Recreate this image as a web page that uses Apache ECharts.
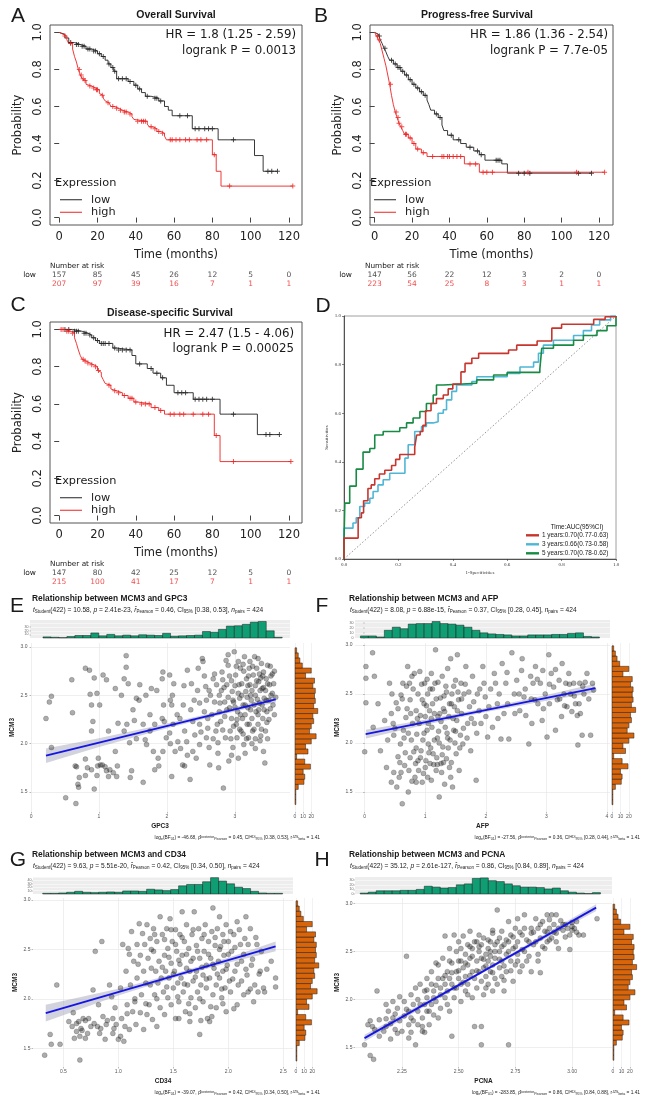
<!DOCTYPE html>
<html><head><meta charset="utf-8">
<script src="https://cdn.jsdelivr.net/npm/echarts@6/dist/echarts.min.js"></script>
<style>html,body{margin:0;padding:0;background:#fff}#c{width:647px;height:1108px}</style>
</head><body><div id="c"></div><script>
// ---------------- DATA ----------------
const kmTimeTicks = [0,20,40,60,80,100,120];
const probTicks = [0,0.2,0.4,0.6,0.8,1.0];
const riskTimes = [0,20,40,60,80,100,120];

// A: Overall survival
const osLowCurve = [[0,1],[1,0.99],[3,0.97],[5,0.945],[8,0.935],[11,0.925],[14,0.91],[17,0.9],[20,0.885],[22,0.87],[24,0.85],[25.5,0.83],[27,0.81],[28.5,0.79],[30,0.75],[36,0.735],[39,0.715],[41,0.695],[43,0.675],[45,0.655],[48,0.645],[52,0.63],[55,0.6],[57,0.58],[59,0.55],[69.5,0.48],[83,0.42],[102,0.335],[106.5,0.25],[114,0.25]];
const osLowCensor = [[6,0.945],[9,0.935],[10,0.935],[12,0.925],[13,0.925],[15,0.91],[16,0.91],[18,0.9],[19,0.9],[21,0.885],[23,0.87],[26,0.83],[28,0.81],[29,0.79],[31,0.75],[33,0.75],[35,0.75],[37,0.735],[40,0.715],[42,0.695],[46,0.655],[50,0.645],[51,0.645],[53,0.63],[63,0.55],[67,0.55],[71,0.48],[73,0.48],[76,0.48],[78,0.48],[80,0.48],[91,0.42],[109,0.25],[111,0.25],[114,0.25]];
const osHighCurve = [[0,1],[1,0.99],[2,0.98],[4,0.96],[5,0.94],[7,0.91],[8,0.87],[9,0.84],[10,0.8],[11,0.77],[12,0.75],[13,0.74],[14,0.72],[15,0.71],[17,0.7],[19,0.69],[21,0.67],[22,0.66],[23,0.645],[24,0.63],[25,0.62],[26,0.61],[27,0.6],[29,0.59],[31,0.58],[33,0.57],[36,0.56],[38,0.545],[39,0.53],[40,0.52],[46,0.505],[47,0.49],[49,0.48],[51,0.465],[53,0.455],[55,0.44],[56,0.42],[80,0.34],[82,0.25],[84.5,0.17],[122,0.17]];
const osHighCensor = [[3,0.98],[6,0.94],[10.5,0.8],[11.5,0.77],[12.5,0.75],[13.5,0.74],[16,0.71],[18,0.7],[19.5,0.69],[20,0.69],[22.5,0.66],[25.5,0.62],[28,0.6],[30,0.59],[32,0.58],[34,0.57],[35,0.57],[37,0.56],[41,0.52],[43,0.52],[44,0.52],[45,0.52],[48,0.49],[50,0.48],[52,0.465],[54,0.455],[58,0.42],[59,0.42],[61,0.42],[63,0.42],[66,0.42],[68,0.42],[72,0.42],[74,0.42],[77,0.42],[81,0.34],[89,0.17],[122,0.17]];
const osRiskLow = [157,85,45,26,12,5,0];
const osRiskHigh = [207,97,39,16,7,1,1];

// B: Progress-free survival
const pfsLowCurve = [[0,1],[1,0.99],[2,0.98],[3,0.96],[4,0.94],[5,0.915],[6,0.895],[7,0.87],[8,0.85],[10,0.83],[12,0.81],[14,0.79],[16,0.77],[18,0.745],[20,0.72],[22,0.7],[24,0.68],[26,0.66],[28,0.635],[29,0.61],[30,0.58],[32,0.56],[34,0.54],[36,0.5],[37,0.47],[39,0.445],[42,0.42],[46,0.4],[49,0.38],[53,0.36],[56,0.34],[59,0.31],[68,0.29],[71,0.24],[116,0.24]];
const pfsLowCensor = [[2.5,0.98],[5.5,0.915],[9,0.85],[11,0.83],[12.5,0.81],[13.5,0.81],[15,0.79],[17,0.77],[19,0.745],[21,0.72],[23,0.7],[25,0.68],[27,0.66],[33,0.56],[35,0.54],[41,0.445],[45,0.42],[51,0.38],[55,0.36],[57,0.34],[65,0.31],[66,0.31],[67,0.31],[77,0.24],[80,0.24],[83,0.24],[109,0.24],[116,0.24]];
const pfsHighCurve = [[0,1],[1,0.98],[2,0.96],[3,0.94],[4,0.9],[5,0.86],[6,0.82],[7,0.77],[8,0.72],[9,0.66],[10,0.61],[11,0.57],[12,0.54],[13,0.51],[14,0.49],[15,0.47],[16,0.45],[18,0.43],[20,0.4],[22,0.37],[25,0.35],[28,0.33],[48,0.29],[56,0.245],[123,0.245]];
const pfsHighCensor = [[1.5,0.98],[2.5,0.96],[8.5,0.72],[11.5,0.57],[12.5,0.54],[13,0.51],[14.5,0.49],[16.5,0.45],[17,0.45],[19,0.43],[21,0.4],[23,0.37],[26,0.35],[31,0.33],[36,0.33],[37,0.33],[39,0.33],[40,0.33],[42,0.33],[44,0.33],[46,0.33],[51,0.29],[54,0.29],[58,0.245],[60,0.245],[63,0.245],[82,0.245],[108,0.245],[123,0.245]];
const pfsRiskLow = [147,56,22,12,3,2,0];
const pfsRiskHigh = [223,54,25,8,3,1,1];

// C: Disease-specific survival
const dssLowCurve = [[0,1],[7,0.99],[12,0.98],[15,0.97],[17,0.955],[19,0.94],[21,0.925],[28,0.9],[30,0.89],[38,0.86],[40,0.815],[46,0.79],[49,0.765],[53,0.74],[56,0.7],[60,0.66],[70,0.625],[84,0.545],[103.5,0.435],[115,0.435]];
const dssLowCensor = [[3,1],[5,1],[8,0.99],[9,0.99],[10,0.99],[13,0.98],[14,0.98],[16,0.97],[18,0.955],[20,0.94],[22,0.925],[23,0.925],[24,0.925],[26,0.925],[29,0.9],[31,0.89],[33,0.89],[35,0.89],[37,0.89],[42,0.815],[48,0.79],[51,0.765],[54,0.74],[62,0.66],[64,0.66],[66,0.66],[71,0.625],[73,0.625],[75,0.625],[77,0.625],[80,0.625],[91,0.545],[108,0.435],[110,0.435],[115,0.435]];
const dssHighCurve = [[0,1],[3,0.99],[6,0.98],[8,0.955],[9,0.925],[10,0.89],[11,0.86],[12,0.84],[13,0.83],[14,0.82],[16,0.81],[18,0.8],[20,0.78],[21,0.77],[22,0.75],[23,0.73],[24,0.71],[25,0.7],[27,0.68],[28,0.67],[30,0.66],[33,0.645],[36,0.63],[39,0.61],[41,0.6],[48,0.58],[52,0.565],[55,0.545],[81,0.43],[84,0.29],[121,0.29]];
const dssHighCensor = [[1,1],[2,1],[4,0.99],[5,0.99],[7,0.98],[12.5,0.84],[13.5,0.83],[15,0.82],[17,0.81],[19,0.8],[20.5,0.78],[26,0.7],[29,0.67],[31,0.66],[34,0.645],[37,0.63],[38,0.63],[40,0.61],[43,0.6],[45,0.6],[47,0.6],[50,0.58],[53,0.565],[58,0.545],[60,0.545],[63,0.545],[65,0.545],[70,0.545],[75,0.545],[78,0.545],[82,0.43],[91,0.29],[121,0.29]];
const dssRiskLow = [147,80,42,25,12,5,0];
const dssRiskHigh = [215,100,41,17,7,1,1];

// D: time-dependent ROC
const roc1y = [[0,0],[0,0.086],[0.052,0.17],[0.064,0.19],[0.072,0.24],[0.088,0.29],[0.1,0.305],[0.113,0.33],[0.13,0.35],[0.15,0.365],[0.175,0.385],[0.19,0.41],[0.205,0.43],[0.26,0.46],[0.267,0.51],[0.28,0.525],[0.29,0.55],[0.3,0.61],[0.32,0.64],[0.34,0.66],[0.365,0.675],[0.383,0.7],[0.4,0.72],[0.43,0.77],[0.445,0.805],[0.47,0.826],[0.495,0.846],[0.605,0.86],[0.635,0.88],[0.71,0.897],[0.764,0.95],[0.8,0.966],[0.918,0.986],[0.96,0.997],[1,1]];
const roc3y = [[0,0],[0,0.127],[0.033,0.148],[0.045,0.17],[0.058,0.216],[0.076,0.23],[0.095,0.25],[0.107,0.278],[0.125,0.305],[0.144,0.326],[0.168,0.353],[0.224,0.415],[0.236,0.47],[0.26,0.525],[0.285,0.545],[0.303,0.56],[0.328,0.565],[0.346,0.6],[0.365,0.614],[0.377,0.655],[0.396,0.69],[0.414,0.716],[0.47,0.73],[0.488,0.75],[0.6,0.764],[0.647,0.79],[0.697,0.81],[0.715,0.847],[0.733,0.88],[0.77,0.9],[0.844,0.92],[0.88,0.94],[0.91,0.963],[0.94,0.984],[0.98,1],[1,1]];
const roc5y = [[0,0],[0,0.07],[0.003,0.23],[0.021,0.3],[0.045,0.37],[0.07,0.44],[0.095,0.455],[0.113,0.51],[0.144,0.525],[0.205,0.54],[0.23,0.56],[0.254,0.58],[0.279,0.607],[0.303,0.64],[0.328,0.675],[0.34,0.716],[0.365,0.723],[0.488,0.737],[0.55,0.757],[0.6,0.768],[0.72,0.782],[0.727,0.867],[0.77,0.88],[0.844,0.9],[0.88,0.92],[0.93,0.94],[0.967,0.96],[1,0.99],[1,1]];
const rocNames = ['1 years:0.70(0.77-0.63)','3 years:0.66(0.73-0.58)','5 years:0.70(0.78-0.62)'];
const rocDiagonal = [[0,0],[1,1]];

// E-H: MCM3 marginal histogram (shared)
const mcm3HistStart = 1.37, mcm3HistWidth = 0.0523;
const mcm3HistCounts = [1,1,1,4,11,12,10,19,12,2,16,13,20,26,18,20,23,22,28,23,25,24,25,22,24,13,20,9,6,4,2];

// E: GPC3
const gpc3Mcm3 = [[0.22,2.26],[0.27,2.43],[0.30,2.49],[0.30,1.96],[0.51,1.44],[0.66,1.38],[0.60,2.66],[0.61,2.32],[0.65,1.77],[0.67,1.76],[0.69,1.58],[0.71,1.65],[0.70,1.55],[0.80,1.67],[0.80,2.78],[0.86,2.76],[0.93,2.68],[0.87,2.51],[0.89,2.40],[0.91,2.23],[0.89,2.13],[0.80,1.84],[0.83,1.75],[0.89,1.73],[0.93,1.53],[0.97,1.67],[0.98,1.77],[1.02,1.78],[0.99,1.85],[1.05,1.78],[0.97,2.52],[1.01,2.40],[1.06,2.71],[1.11,2.66],[1.14,2.13],[1.09,1.76],[1.11,1.72],[1.14,1.66],[1.16,1.73],[1.21,1.70],[1.26,1.66],[1.27,1.77],[1.24,1.92],[1.28,2.21],[1.24,2.57],[1.33,2.50],[1.37,2.67],[1.40,2.91],[1.40,2.79],[1.43,2.62],[1.41,2.20],[1.37,2.13],[1.45,2.01],[1.48,1.72],[1.46,1.65],[1.52,2.24],[1.55,2.47],[1.59,2.45],[1.60,2.61],[1.65,1.60],[1.68,2.04],[1.69,2.50],[1.70,1.99],[1.75,2.13],[1.77,2.57],[1.80,1.92],[1.82,1.73],[1.82,2.20],[1.87,1.85],[1.88,1.77],[1.93,2.26],[1.94,2.74],[1.94,1.92],[1.96,2.23],[1.93,2.67],[1.99,2.06],[2.04,2.11],[2.04,2.71],[2.05,2.45],[2.07,2.40],[2.08,2.50],[2.09,2.20],[2.07,1.66],[2.12,1.92],[2.16,2.02],[2.19,2.26],[2.23,1.78],[2.26,1.77],[2.24,2.40],[2.26,2.13],[2.30,2.76],[2.29,2.02],[2.34,1.63],[2.36,2.62],[2.38,2.23],[2.38,1.92],[2.41,2.09],[2.43,1.85],[2.46,2.78],[2.48,2.42],[2.48,2.20],[2.48,1.99],[2.52,2.88],[2.53,2.85],[2.55,2.33],[2.57,2.59],[2.58,2.45],[2.58,2.06],[2.60,2.16],[2.60,2.26],[2.62,1.96],[2.63,1.78],[2.64,2.50],[2.68,2.67],[2.70,2.43],[2.72,2.13],[2.73,2.61],[2.75,2.01],[2.76,1.75],[2.77,2.33],[2.77,2.50],[2.79,2.23],[2.81,2.74],[2.82,2.66],[2.83,1.54],[2.85,2.43],[2.86,2.06],[2.87,2.86],[2.88,2.61],[2.90,2.81],[2.91,1.82],[2.92,2.37],[2.93,2.13],[2.95,2.26],[2.96,2.54],[2.97,1.96],[2.98,2.43],[2.99,2.95],[3.01,2.71],[3.02,2.20],[3.03,2.06],[3.04,2.33],[3.06,2.61],[3.07,2.47],[3.08,2.78],[3.09,2.13],[3.11,2.26],[3.12,2.40],[3.13,1.99],[3.14,2.90],[3.16,2.54],[3.17,2.67],[3.18,2.20],[3.19,2.37],[3.20,2.06],[3.21,2.78],[3.22,2.61],[3.24,2.45],[3.25,2.26],[3.26,2.13],[3.27,2.71],[3.29,2.90],[3.30,2.50],[3.31,2.33],[3.32,2.78],[3.34,2.20],[3.35,2.64],[3.36,2.42],[3.37,2.03],[3.39,2.83],[3.40,2.57],[3.41,2.26],[3.42,2.74],[3.43,2.47],[3.45,2.13],[3.46,2.67],[3.47,2.33],[3.48,2.81],[3.51,2.61],[3.53,2.50],[3.55,2.72],[3.56,2.40],[3.44,1.80],[2.95,2.65],[3.05,2.52],[3.15,2.30],[3.25,2.55],[3.35,2.35],[3.45,2.55],[3.10,2.62],[3.20,2.70],[3.30,2.60],[3.40,2.40],[2.90,2.48],[3.00,2.38],[3.28,2.15],[3.38,2.68],[3.50,2.45],[3.18,2.48],[3.08,2.30],[2.98,2.18],[3.33,2.46],[3.23,2.35],[2.85,2.28],[3.42,2.58],[3.12,2.10],[3.36,2.72],[3.52,2.36],[2.80,2.55],[3.22,2.85],[3.02,2.80],[3.47,2.22],[3.57,2.62],
[2.62,2.55],[2.66,2.30],[2.70,2.72],[2.74,2.20],[2.78,2.42],[2.82,2.14],[2.84,2.58],[2.88,2.35],[2.92,2.70],[2.94,2.05],[2.97,2.45],[3.00,2.60],[3.03,2.25],[3.05,2.85],[3.07,2.15],[3.10,2.50],[3.13,2.75],[3.15,2.40],[3.17,2.05],[3.19,2.60],[3.21,2.20],[3.23,2.50],[3.26,2.80],[3.28,2.40],[3.30,2.05],[3.32,2.65],[3.34,2.30],[3.37,2.55],[3.39,2.15],[3.41,2.70],[3.43,2.35],[3.46,2.45],[3.48,2.62],[3.50,2.25],[3.53,2.70],[3.55,2.52],[3.58,2.30],[3.60,2.48],[3.15,1.90],[3.30,1.95],[2.95,1.88],[3.42,1.92],[2.75,1.90],[3.05,1.85],[3.25,2.00],[3.38,2.08],[3.48,2.05],[2.68,2.05],[2.55,2.70],[2.45,2.55],[2.35,2.35],[2.25,2.60],[2.15,2.30],[2.05,2.00],[1.95,2.40],[1.85,2.55],[1.75,2.30],[1.65,2.20],[1.55,2.05],[1.50,2.35],[2.50,2.12],[2.40,2.45],[2.20,1.95],[2.10,2.62],[2.30,1.88],[3.52,2.80],[3.58,2.75],[3.34,2.88],[3.12,2.82],[2.90,2.92]];
const gpc3HistStart = 0.176, gpc3HistWidth = 0.1173;
const gpc3HistCounts = [3,2,1,4,7,7,14,6,10,6,8,6,9,8,7,13,5,6,7,8,18,16,24,33,34,38,44,46,20,2];
const gpc3RegLine = [[0.22,1.877],[3.6,2.459]];
const gpc3BandX = [0.22,1.0,2.0,2.6,3.2,3.6];
const gpc3BandLo = [1.80,1.965,2.158,2.266,2.365,2.424];
const gpc3BandHi = [1.95,2.056,2.208,2.306,2.415,2.494];

// F: AFP
const afpMcm3 = [[0.02,2.78],[0.02,2.66],[0.02,2.41],[0,1.91],[0.13,2.92],[0.14,2.16],[0.16,2.68],[0.22,2.40],[0.26,1.92],[0.33,2.23],[0.36,1.75],[0.38,2.03],[0.41,2.61],[0.44,1.60],[0.44,2.30],[0.47,2.20],[0.48,2.08],[0.52,2.41],[0.53,1.55],[0.55,1.86],[0.57,1.65],[0.59,1.99],[0.60,2.49],[0.62,1.38],[0.63,2.61],[0.64,2.13],[0.66,1.77],[0.68,2.26],[0.71,2.78],[0.73,1.72],[0.74,2.61],[0.75,2.44],[0.77,2.03],[0.78,1.61],[0.79,2.20],[0.81,1.91],[0.82,2.71],[0.84,1.79],[0.85,2.33],[0.86,2.09],[0.88,2.50],[0.89,1.72],[0.90,2.20],[0.91,2.73],[0.93,1.92],[0.95,2.44],[0.96,2.03],[0.97,1.69],[0.99,2.61],[1.00,2.27],[1.01,1.82],[1.03,2.13],[1.04,2.50],[1.04,1.65],[1.05,1.99],[1.07,2.33],[1.08,1.79],[1.10,2.71],[1.11,2.16],[1.12,2.40],[1.13,1.89],[1.15,2.03],[1.16,2.61],[1.18,1.72],[1.17,2.95],[1.21,2.27],[1.22,2.12],[1.23,1.45],[1.25,2.46],[1.26,1.79],[1.28,2.68],[1.29,1.96],[1.30,2.35],[1.32,1.58],[1.33,2.16],[1.34,2.58],[1.35,1.84],[1.37,2.76],[1.39,2.27],[1.40,1.75],[1.41,2.03],[1.42,2.86],[1.44,2.50],[1.45,1.55],[1.47,2.13],[1.48,2.37],[1.50,2.64],[1.51,1.89],[1.52,2.23],[1.53,2.90],[1.55,2.44],[1.56,1.72],[1.58,2.08],[1.59,2.61],[1.60,2.30],[1.62,1.99],[1.64,2.50],[1.67,2.78],[1.70,2.20],[1.73,2.37],[1.75,1.92],[1.78,2.68],[1.81,2.20],[1.84,1.62],[1.86,2.50],[1.89,2.33],[1.95,2.78],[1.97,2.61],[1.99,2.47],[2.00,2.27],[2.03,2.06],[2.05,2.37],[2.11,2.16],[2.14,2.71],[2.16,2.61],[2.19,2.40],[2.22,2.50],[2.25,2.04],[2.27,2.81],[2.30,2.30],[2.33,2.61],[2.36,2.40],[2.38,2.04],[2.43,2.92],[2.47,2.50],[2.48,2.30],[2.51,2.64],[2.56,2.33],[2.59,2.74],[2.60,2.86],[2.63,2.47],[2.66,2.28],[2.71,1.99],[2.74,2.68],[2.76,2.20],[2.78,2.61],[2.81,2.44],[2.82,2.78],[2.86,2.40],[2.90,2.61],[2.93,2.23],[2.94,2.74],[2.98,2.50],[3.01,2.06],[3.04,2.90],[3.05,2.40],[3.08,2.71],[3.12,2.57],[3.15,2.13],[3.18,2.44],[3.21,2.64],[3.25,2.27],[3.26,2.81],[3.29,2.50],[3.32,2.61],[3.34,2.37],[3.37,2.71],[3.40,2.50],[3.42,2.32],[3.45,2.61],[3.48,2.40],[3.51,2.28],[3.52,1.98],[3.55,2.61],[3.56,2.30],[3.59,2.08],[3.62,2.50],[3.64,2.62],[3.67,2.71],[3.73,2.08],[3.76,2.61],[3.78,2.54],[0.70,2.35],[0.75,1.85],[0.85,1.95],[0.92,2.28],[0.98,2.10],[1.02,2.38],[1.06,1.90],[1.10,2.25],[1.14,1.78],[1.18,2.45],[1.20,2.05],[1.24,2.30],[1.27,1.70],[1.31,2.48],[1.36,2.10],[1.38,1.95],[1.43,2.40],[1.46,2.25],[1.49,2.00],[1.54,2.52],[0.80,2.55],[0.95,1.60],[1.08,2.55],[1.30,1.80],[0.65,2.05],
[0.45,2.50],[0.50,2.15],[0.55,2.35],[0.58,1.80],[0.62,2.45],[0.67,1.90],[0.69,2.58],[0.72,2.10],[0.76,2.30],[0.78,2.68],[0.83,1.65],[0.87,2.25],[0.92,1.85],[0.94,2.60],[0.98,2.40],[1.00,1.75],[1.03,2.65],[1.05,2.20],[1.09,1.95],[1.12,2.55],[1.15,2.30],[1.19,1.85],[1.21,2.62],[1.23,2.00],[1.26,2.22],[1.28,1.88],[1.32,2.32],[1.35,2.52],[1.37,2.05],[1.40,2.40],[1.43,1.80],[1.47,2.58],[1.50,2.12],[1.53,2.33],[1.57,1.95],[1.60,2.45],[1.63,2.15],[1.66,2.60],[1.69,2.05],[1.72,2.52],[1.76,2.25],[1.80,2.42],[1.85,2.10],[1.90,2.55],[0.48,1.70],[0.60,1.70],[0.85,1.60],[1.10,1.62],[1.20,1.78],[1.42,1.65],[0.72,1.50],[0.88,1.82],[2.65,2.55],[2.75,2.45],[2.85,2.65],[2.95,2.35],[3.05,2.60],[3.15,2.75],[3.22,2.45],[3.30,2.38],[3.38,2.60],[3.46,2.48],[3.54,2.40],[3.60,2.58],[3.70,2.45],[2.55,2.50],[2.35,2.72],[2.20,2.25],[2.08,2.55],[1.92,2.20]];
const afpHistStart = -0.07, afpHistWidth = 0.1315;
const afpHistCounts = [4,4,2,15,21,18,27,28,28,32,28,27,25,21,15,10,8,7,6,4,4,6,6,6,7,7,9,10,3,2];
const afpRegLine = [[0.016,2.09],[3.81,2.56]];
const afpBandX = [0.02,1.0,2.0,3.0,3.8];
const afpBandLo = [2.045,2.187,2.316,2.43,2.514];
const afpBandHi = [2.135,2.237,2.356,2.49,2.604];

// G: CD34
const cd34Mcm3 = [[0.33,1.43],[0.38,1.64],[0.39,1.54],[0.47,1.54],[0.44,2.14],[0.55,1.77],[0.58,1.72],[0.59,1.86],[0.62,1.67],[0.64,1.77],[0.65,1.62],[0.65,1.38],[0.67,1.68],[0.68,1.80],[0.70,1.60],[0.73,1.80],[0.75,1.72],[0.77,2.09],[0.79,2.48],[0.81,1.72],[0.82,1.94],[0.83,1.65],[0.85,2.58],[0.86,1.82],[0.88,1.59],[0.89,1.74],[0.92,2.14],[0.94,2.02],[0.95,1.80],[0.95,1.65],[0.97,1.91],[0.98,1.74],[1.00,1.59],[1.02,2.11],[1.03,1.80],[1.04,2.55],[1.05,1.57],[1.06,1.72],[1.07,2.28],[1.08,1.94],[1.09,2.51],[1.10,1.69],[1.11,2.14],[1.12,2.68],[1.13,1.87],[1.14,2.38],[1.15,1.97],[1.16,1.74],[1.17,2.55],[1.17,2.21],[1.19,2.76],[1.20,1.86],[1.20,2.44],[1.21,2.04],[1.22,2.66],[1.23,2.28],[1.23,1.69],[1.24,2.55],[1.25,2.16],[1.26,2.75],[1.26,1.84],[1.27,2.41],[1.28,1.94],[1.29,2.61],[1.29,2.14],[1.30,2.31],[1.31,1.79],[1.32,2.71],[1.32,2.48],[1.33,2.04],[1.34,2.28],[1.35,1.72],[1.35,2.58],[1.36,2.16],[1.37,2.38],[1.38,1.91],[1.38,2.83],[1.39,2.21],[1.40,2.65],[1.41,2.07],[1.42,2.44],[1.42,1.84],[1.43,2.28],[1.44,2.71],[1.45,2.01],[1.45,2.51],[1.46,2.21],[1.47,2.81],[1.48,2.36],[1.48,1.94],[1.49,2.58],[1.50,2.11],[1.51,2.28],[1.52,2.70],[1.52,1.80],[1.53,2.48],[1.54,2.16],[1.55,2.39],[1.55,1.97],[1.56,2.65],[1.57,2.21],[1.58,2.88],[1.58,2.44],[1.59,2.07],[1.60,2.58],[1.61,1.87],[1.62,2.31],[1.62,2.75],[1.63,2.14],[1.64,2.51],[1.65,1.77],[1.65,2.28],[1.66,2.01],[1.67,2.65],[1.68,2.41],[1.68,2.18],[1.69,2.88],[1.70,1.91],[1.71,2.54],[1.71,2.28],[1.72,2.07],[1.73,2.71],[1.74,1.64],[1.74,2.41],[1.75,2.14],[1.76,2.61],[1.77,2.24],[1.77,1.97],[1.78,2.48],[1.79,2.75],[1.80,2.34],[1.80,2.11],[1.81,1.80],[1.82,2.58],[1.83,2.21],[1.83,1.77],[1.84,2.41],[1.85,2.68],[1.86,2.04],[1.86,2.92],[1.87,2.31],[1.88,2.54],[1.89,2.14],[1.89,1.91],[1.90,2.71],[1.91,2.38],[1.92,2.21],[1.92,2.83],[1.93,2.53],[1.94,2.01],[1.95,2.65],[1.95,2.28],[1.96,2.44],[1.97,2.11],[1.98,2.75],[1.98,1.87],[1.99,2.34],[2.00,2.58],[2.01,2.18],[2.02,2.07],[2.03,2.48],[2.05,2.65],[2.06,2.28],[2.08,1.94],[2.08,2.78],[2.09,2.14],[2.11,2.55],[2.12,2.38],[2.14,2.04],[2.15,2.61],[2.16,2.83],[2.17,2.24],[2.18,2.07],[2.20,2.71],[2.21,2.34],[2.23,1.97],[2.24,2.14],[2.26,2.55],[2.27,2.07],[2.29,2.28],[2.32,2.11],[2.33,2.07],[2.39,2.38],[2.43,2.21],[2.43,2.12],
[1.40,2.32],[1.42,2.60],[1.44,2.12],[1.46,2.42],[1.48,2.70],[1.50,2.25],[1.52,2.55],[1.54,2.02],[1.56,2.35],[1.58,2.62],[1.60,2.15],[1.62,2.45],[1.64,1.95],[1.66,2.38],[1.68,2.70],[1.70,2.22],[1.72,2.48],[1.74,2.00],[1.76,2.32],[1.78,2.65],[1.80,2.20],[1.82,2.45],[1.84,1.92],[1.86,2.35],[1.88,2.62],[1.90,2.25],[1.92,2.50],[1.94,2.10],[1.96,2.58],[1.98,2.30],[2.00,2.45],[2.02,2.68],[2.04,2.20],[2.06,2.52],[2.08,2.35],[2.10,2.70],[2.12,2.18],[2.14,2.45],[2.16,2.30],[2.18,2.55],[2.20,2.10],[2.22,2.40],[2.25,2.62],[2.28,2.25],[2.30,2.48],[2.35,2.30],[1.55,1.80],[1.65,1.85],[1.75,1.78],[1.85,1.82],[1.95,1.95],[2.05,1.90],[0.62,1.75],[0.66,1.70],[0.70,1.78],[0.72,1.65],[0.78,1.75],[0.84,1.70],[0.90,1.78],[0.96,1.70],[1.02,1.62],[1.08,1.85],[0.60,1.60],[1.15,2.00],[1.25,1.95],[1.30,2.50],[1.18,2.35],[1.35,2.00],[1.33,2.65],[1.10,2.45]];
const cd34HistStart = 0.312, cd34HistWidth = 0.0727;
const cd34HistCounts = [2,2,3,5,8,5,4,5,6,5,9,9,8,14,12,10,13,24,28,28,36,48,38,30,20,16,8,3,2,2];
const cd34RegLine = [[0.34,1.855],[2.43,2.53]];
const cd34BandX = [0.34,1.0,1.5,2.0,2.43];
const cd34BandLo = [1.77,2.033,2.21,2.366,2.48];
const cd34BandHi = [1.94,2.103,2.25,2.416,2.58];

// H: PCNA
const pcnaMcm3 = [[2.085,1.53],[2.11,1.42],[2.125,1.38],[2.14,2.09],[2.10,1.74],[2.11,1.78],[2.12,1.72],[2.13,1.69],[2.15,1.79],[2.17,1.67],[2.18,1.95],[2.18,1.72],[2.19,1.88],[2.20,1.59],[2.21,1.98],[2.21,1.81],[2.22,1.69],[2.23,1.91],[2.24,1.78],[2.24,2.03],[2.25,1.67],[2.26,1.83],[2.26,1.98],[2.27,2.45],[2.28,1.74],[2.28,1.88],[2.29,2.05],[2.29,1.66],[2.29,1.81],[2.30,1.95],[2.31,1.53],[2.31,2.12],[2.32,1.74],[2.32,1.88],[2.32,2.00],[2.33,2.16],[2.34,1.67],[2.34,1.81],[2.35,1.95],[2.35,2.09],[2.35,1.66],[2.36,2.22],[2.36,1.88],[2.36,2.02],[2.37,1.74],[2.38,2.16],[2.38,1.95],[2.38,2.29],[2.39,1.84],[2.39,2.09],[2.40,2.38],[2.40,1.98],[2.41,2.22],[2.41,1.81],[2.41,2.36],[2.42,2.12],[2.42,1.91],[2.43,2.22],[2.43,2.43],[2.44,2.02],[2.44,2.16],[2.44,2.66],[2.45,2.29],[2.45,2.09],[2.46,1.88],[2.46,2.53],[2.46,2.22],[2.47,1.62],[2.47,2.38],[2.47,2.16],[2.48,2.67],[2.48,2.02],[2.49,2.29],[2.49,2.50],[2.49,2.12],[2.50,2.60],[2.50,2.22],[2.50,2.40],[2.51,1.98],[2.51,2.53],[2.51,2.16],[2.52,2.33],[2.52,2.66],[2.53,2.09],[2.53,2.47],[2.53,2.24],[2.54,2.57],[2.54,2.36],[2.54,2.16],[2.55,2.71],[2.55,2.43],[2.56,2.29],[2.56,2.02],[2.56,2.53],[2.57,2.22],[2.57,1.72],[2.57,2.60],[2.58,2.40],[2.58,2.12],[2.59,2.50],[2.59,2.29],[2.59,2.67],[2.60,2.19],[2.60,2.43],[2.60,2.57],[2.61,2.05],[2.61,2.33],[2.61,2.64],[2.62,2.47],[2.62,2.24],[2.63,2.53],[2.63,2.16],[2.63,2.40],[2.64,2.60],[2.64,2.29],[2.64,2.50],[2.65,2.09],[2.65,2.69],[2.65,2.36],[2.66,2.22],[2.66,2.57],[2.66,2.43],[2.67,2.93],[2.67,2.16],[2.68,2.64],[2.68,2.33],[2.68,2.50],[2.69,2.24],[2.69,2.71],[2.69,2.40],[2.70,2.57],[2.70,2.09],[2.71,2.47],[2.71,2.29],[2.72,2.81],[2.72,2.60],[2.72,1.53],[2.73,2.40],[2.73,2.67],[2.74,2.19],[2.74,2.53],[2.75,2.74],[2.75,2.36],[2.76,2.60],[2.76,2.47],[2.76,2.84],[2.77,2.29],[2.78,2.67],[2.79,2.88],[2.79,2.50],[2.79,2.74],[2.80,2.40],[2.81,2.60],[2.82,2.74],[2.82,2.29],[2.82,2.69],[2.83,2.57],[2.84,2.84],[2.85,2.47],[2.85,2.74],[2.86,2.64],[2.86,2.28],[2.87,2.81],[2.88,2.53],[2.88,2.71],[2.89,2.88],[2.89,2.60],[2.90,2.74],[2.90,2.83],[2.91,2.64],[2.91,2.88],[2.92,2.78],[2.93,2.88],[2.93,2.69],[2.94,2.74],[2.94,2.53],[2.96,2.78],[2.96,2.72],[2.97,2.78],[2.98,2.74],[2.99,2.67],[3.00,2.76],[3.00,2.72],[3.01,2.74],[3.02,2.81],[3.03,2.67],[3.05,2.67],[2.99,2.52],[3.11,2.84],[2.60,1.53],[2.60,1.72],
[2.15,1.62],[2.20,1.75],[2.23,1.65],[2.27,1.90],[2.30,1.78],[2.33,1.95],[2.37,1.88],[2.39,2.02],[2.42,2.05],[2.45,1.95],[2.47,2.28],[2.48,2.12],[2.50,2.30],[2.52,2.18],[2.53,2.38],[2.55,2.25],[2.56,2.45],[2.58,2.30],[2.59,2.55],[2.61,2.42],[2.62,2.35],[2.63,2.62],[2.64,2.45],[2.65,2.28],[2.66,2.50],[2.67,2.60],[2.68,2.42],[2.69,2.55],[2.70,2.35],[2.71,2.62],[2.72,2.50],[2.73,2.30],[2.74,2.65],[2.75,2.55],[2.76,2.40],[2.77,2.70],[2.78,2.52],[2.80,2.62],[2.81,2.45],[2.83,2.70],[2.84,2.60],[2.86,2.78],[2.87,2.55],[2.89,2.70],[2.90,2.62],[2.92,2.70],[2.95,2.82],[2.97,2.65],[3.00,2.80],[3.02,2.70],[2.36,2.10],[2.40,2.15],[2.44,2.25],[2.51,2.40],[2.54,2.05],[2.58,2.60],[2.62,2.12],[2.46,2.40],[2.34,1.72],[2.28,1.60],[2.22,1.85],[2.18,1.80],[2.55,2.55],[2.65,2.72],[2.70,2.20],[2.78,2.35],[2.85,2.40],[2.93,2.60]];
const pcnaHistStart = 2.066, pcnaHistWidth = 0.0353;
const pcnaHistCounts = [2,4,7,7,7,8,8,10,17,15,13,14,20,22,34,35,29,27,22,18,15,15,14,11,13,7,4,2,1,3];
const pcnaRegLine = [[2.085,1.60],[3.106,2.955]];
const pcnaBandX = [2.085,2.6,3.106];
const pcnaBandLo = [1.565,2.271,2.92];
const pcnaBandHi = [1.635,2.295,2.99];

const mcm3Ticks = [1.5,2.0,2.5,3.0];

// ---------------- BUILD ----------------
const PLUS = 'path://M4,0h2v10h-2zM0,4h10v2h-10z';
const RED = '#ee2222', BLK = '#222222';
const option = {animation:false, backgroundColor:'#ffffff', grid:[], xAxis:[], yAxis:[], series:[], legend:[], graphic:{elements:[]}};
const G = option.graphic.elements;
function txt(x, y, text, font, extra){
  G.push({type:'text', x:x, y:y, silent:true, style:Object.assign({text:text, fill:'#1a1a1a', font:font, textAlign:'left', textVerticalAlign:'middle'}, extra||{})});
}
function addGrid(g, xa, ya){
  option.grid.push(g); const gi = option.grid.length-1;
  option.xAxis.push(Object.assign({gridIndex:gi}, xa));
  option.yAxis.push(Object.assign({gridIndex:gi}, ya));
  return gi;
}
const DV = 'DejaVu Sans';

function kmPanel(p){
  const ai = addGrid({left:p.left, top:p.top, width:p.w, height:p.h, show:true, borderColor:'#555', borderWidth:1, backgroundColor:'rgba(0,0,0,0)'},
    {type:'value', min:p.xmin, max:p.xmax, axisLine:{show:false}, splitLine:{show:false},
     axisTick:{show:true, length:5, customValues:kmTimeTicks, lineStyle:{color:'#444'}},
     axisLabel:{customValues:kmTimeTicks, fontSize:11.5, fontFamily:DV, color:'#222', margin:6},
     name:'Time (months)', nameLocation:'middle', nameGap:24, nameTextStyle:{fontSize:11.5, fontFamily:DV, color:'#222'}},
    {type:'value', min:-0.04, max:1.04, axisLine:{show:false}, splitLine:{show:false},
     axisTick:{show:true, length:5, customValues:probTicks, lineStyle:{color:'#444'}},
     axisLabel:{customValues:probTicks, rotate:90, formatter:v=>Number(v).toFixed(1), fontSize:11.5, fontFamily:DV, color:'#222', margin:6},
     name:'Probability', nameLocation:'middle', nameGap:26, nameTextStyle:{fontSize:11.5, fontFamily:DV, color:'#222'}});
  [[p.low, p.lowC, BLK, 'low'],[p.high, p.highC, RED, 'high']].forEach(s=>{
    option.series.push({type:'line', name:s[3], xAxisIndex:ai, yAxisIndex:ai, data:s[0], step:'end', symbol:'none', color:s[2], lineStyle:{color:s[2], width:0.9}, silent:true, z:3});
    option.series.push({type:'scatter', name:s[3]+' censored', xAxisIndex:ai, yAxisIndex:ai, data:s[1], symbol:PLUS, symbolSize:5, itemStyle:{color:s[2]}, silent:true, z:4});
  });
  const ri = addGrid({left:p.left, top:p.riskTop, width:p.w, height:18},
    {type:'value', min:p.xmin, max:p.xmax, show:false},
    {type:'category', data:['low','high'], inverse:true, axisLine:{show:false}, axisTick:{show:false}, splitLine:{show:false},
     axisLabel:{margin:p.lblMargin, fontSize:7.5, fontFamily:DV, formatter:v=>v==='high'?'{h|high}':'{l|low}', rich:{h:{color:RED, fontSize:7.5, fontFamily:DV}, l:{color:BLK, fontSize:7.5, fontFamily:DV}}}});
  [[p.riskLow,'low',BLK],[p.riskHigh,'high',RED]].forEach(r=>{
    option.series.push({type:'scatter', xAxisIndex:ri, yAxisIndex:ri, symbolSize:1, itemStyle:{color:'rgba(0,0,0,0)'}, silent:true,
      data: riskTimes.map((t,i)=>[t, r[1], r[0][i]]),
      label:{show:true, position:'inside', formatter:q=>String(q.value[2]), fontSize:7.5, fontFamily:DV, color:r[2]}});
  });
  txt(p.nrX, p.riskTop-4.5, 'Number at risk', '7.3px "DejaVu Sans"');
  txt(p.title[0], p.title[1], p.title[2], 'bold 10.5px "Liberation Sans"', {textAlign:'center'});
  txt(p.hrX, p.hrY1, p.hr, '11.8px "DejaVu Sans"', {textAlign:'right'});
  txt(p.hrX, p.hrY2, p.lp, '11.8px "DejaVu Sans"', {textAlign:'right'});
  txt(p.exX, p.exY, 'Expression', '11.3px "DejaVu Sans"');
  option.legend.push({data:['low','high'], orient:'vertical', left:p.lgX, top:p.lgY, padding:0, itemWidth:22, itemHeight:1, itemGap:0, icon:'rect', selectedMode:false,
    textStyle:{fontSize:11.3, fontFamily:DV, color:'#222', lineHeight:12.5, padding:[0,0,0,4]}});
}

kmPanel({left:50, top:25, w:252, h:200, xmin:-4.8, xmax:126.8, riskTop:270.5, nrX:50, lblMargin:14,
  low:osLowCurve, lowC:osLowCensor, high:osHighCurve, highC:osHighCensor, riskLow:osRiskLow, riskHigh:osRiskHigh,
  title:[176,15,'Overall Survival'], hrX:296, hrY1:35, hrY2:51, hr:'HR = 1.8 (1.25 - 2.59)', lp:'logrank P = 0.0013',
  exX:55, exY:183, lgX:60, lgY:193.5});
kmPanel({left:370, top:25, w:243, h:200, xmin:-2.5, xmax:127.5, riskTop:270.5, nrX:365, lblMargin:18,
  low:pfsLowCurve, lowC:pfsLowCensor, high:pfsHighCurve, highC:pfsHighCensor, riskLow:pfsRiskLow, riskHigh:pfsRiskHigh,
  title:[477,15,'Progress-free Survival'], hrX:608, hrY1:35, hrY2:51, hr:'HR = 1.86 (1.36 - 2.54)', lp:'logrank P = 7.7e-05',
  exX:370, exY:183, lgX:374, lgY:193.5});
kmPanel({left:50, top:322, w:252, h:201, xmin:-4.8, xmax:126.8, riskTop:568.5, nrX:50, lblMargin:14,
  low:dssLowCurve, lowC:dssLowCensor, high:dssHighCurve, highC:dssHighCensor, riskLow:dssRiskLow, riskHigh:dssRiskHigh,
  title:[170,313,'Disease-specific Survival'], hrX:294, hrY1:334, hrY2:349, hr:'HR = 2.47 (1.5 - 4.06)', lp:'logrank P = 0.00025',
  exX:55, exY:481, lgX:60, lgY:491.5});

// D: ROC
(function(){
  const SER = 'Liberation Serif';
  const ai = addGrid({left:344, top:316, width:272, height:243, show:true, borderColor:'#888', borderWidth:0.8, backgroundColor:'#fff'},
    {type:'value', min:0, max:1, interval:0.2, axisLine:{show:true, lineStyle:{color:'#333', width:0.8}}, splitLine:{show:false},
     axisTick:{length:2, lineStyle:{color:'#333', width:0.6}}, axisLabel:{formatter:v=>Number(v).toFixed(1), fontSize:5, fontFamily:SER, color:'#333', margin:3},
     name:'1-Specificities', nameLocation:'middle', nameGap:11, nameTextStyle:{fontSize:5, fontFamily:SER, color:'#333'}},
    {type:'value', min:0, max:1, interval:0.2, axisLine:{show:true, lineStyle:{color:'#333', width:0.8}}, splitLine:{show:false},
     axisTick:{length:2, lineStyle:{color:'#333', width:0.6}}, axisLabel:{formatter:v=>Number(v).toFixed(1), fontSize:5, fontFamily:SER, color:'#333', margin:3},
     name:'Sensitivities', nameLocation:'middle', nameGap:15, nameTextStyle:{fontSize:5, fontFamily:SER, color:'#333'}});
  option.series.push({type:'line', xAxisIndex:ai, yAxisIndex:ai, data:rocDiagonal, symbol:'none', lineStyle:{color:'#777', width:0.8, type:[1.5,2]}, silent:true});
  [[roc3y,'#4fb6d6',rocNames[1]],[roc5y,'#178a44',rocNames[2]],[roc1y,'#c8352e',rocNames[0]]].forEach(s=>{
    option.series.push({type:'line', name:s[2], xAxisIndex:ai, yAxisIndex:ai, data:s[0], step:'end', symbol:'none', color:s[1], lineStyle:{color:s[1], width:1.6}, silent:true});
  });
  option.legend.push({data:rocNames, orient:'vertical', left:526, top:532, padding:0, itemWidth:13, itemHeight:2.4, itemGap:2.4, icon:'rect', selectedMode:false,
    textStyle:{fontSize:6.4, fontFamily:'Liberation Sans', color:'#222', lineHeight:6.6, padding:[0,0,0,-2]}});
  txt(577, 527, 'Time:AUC(95%CI)', '6.4px "Liberation Sans"', {textAlign:'center'});
})();

// E-H scatter panels
function histSeries(ai, start, width, counts, fill, horizontal){
  option.series.push({type:'custom', xAxisIndex:ai, yAxisIndex:ai, silent:true,
    data: counts.map((c,i)=>[start+i*width, start+(i+1)*width, c]),
    encode: horizontal ? {y:[0,1], x:2} : {x:[0,1], y:2},
    renderItem:(params, api)=>{
      let a, b;
      if (horizontal){ a = api.coord([0, api.value(0)]); b = api.coord([api.value(2), api.value(1)]); }
      else { a = api.coord([api.value(0), 0]); b = api.coord([api.value(1), api.value(2)]); }
      return {type:'rect', shape:{x:Math.min(a[0],b[0]), y:Math.min(a[1],b[1]), width:Math.abs(b[0]-a[0]), height:Math.abs(a[1]-b[1])}, style:{fill:fill, stroke:'#1a1a1a', lineWidth:0.5}};
    }});
}
function scatterPanel(p){
  const LS = 'Liberation Sans';
  const tickLab = {fontSize:5, fontFamily:LS, color:'#555', margin:2.5};
  const ht = addGrid({left:p.left, top:p.htTop, width:p.w, height:p.htH, show:true, backgroundColor:'#ededed', borderWidth:0},
    {type:'value', min:p.xmin, max:p.xmax, show:false},
    {type:'value', min:0, max:p.hMax, axisLine:{show:false}, axisTick:{show:true, length:1.5, customValues:p.hTicks, lineStyle:{color:'#666', width:0.4}},
     axisLabel:{customValues:p.hTicks, fontSize:3.6, fontFamily:LS, color:'#666', margin:1.5}, splitLine:{show:true, lineStyle:{color:'#fff', width:0.5}}});
  histSeries(ht, p.hStart, p.hWidth, p.hCounts, '#0f9e73', false);
  const mi = addGrid({left:p.left, top:p.top, width:p.w, height:p.h, show:true, backgroundColor:'#fff', borderWidth:0},
    {type:'value', min:p.xmin, max:p.xmax, axisLine:{show:false},
     axisTick:{show:true, length:1.5, customValues:p.xTicks, lineStyle:{color:'#777', width:0.5}},
     axisLabel:Object.assign({customValues:p.xTicks, formatter:p.xFmt}, tickLab),
     splitLine:{show:true, lineStyle:{color:'#e4e4e4', width:0.6}},
     name:p.xName, nameLocation:'middle', nameGap:11, nameTextStyle:{fontSize:6.5, fontWeight:'bold', fontFamily:LS, color:'#222'}},
    {type:'value', min:p.ymin, max:p.ymax, axisLine:{show:false},
     axisTick:{show:true, length:1.5, customValues:mcm3Ticks, lineStyle:{color:'#777', width:0.5}},
     axisLabel:Object.assign({customValues:mcm3Ticks, formatter:v=>Number(v).toFixed(1)}, tickLab),
     splitLine:{show:true, lineStyle:{color:'#e4e4e4', width:0.6}},
     name:'MCM3', nameLocation:'middle', nameGap:14, nameTextStyle:{fontSize:6.5, fontWeight:'bold', fontFamily:LS, color:'#222'}});
  option.series.push({type:'scatter', xAxisIndex:mi, yAxisIndex:mi, data:p.pts, symbolSize:5, silent:true,
    itemStyle:{color:'rgba(25,25,25,0.45)', borderColor:'rgba(0,0,0,0.55)', borderWidth:0.4}});
  option.series.push({type:'custom', xAxisIndex:mi, yAxisIndex:mi, silent:true, data:[[p.bandX[0], p.bandLo[0]]],
    renderItem:(params, api)=>{
      const pts = [];
      p.bandX.forEach((x,i)=>pts.push(api.coord([x, p.bandHi[i]])));
      for (let i=p.bandX.length-1;i>=0;i--) pts.push(api.coord([p.bandX[i], p.bandLo[i]]));
      return {type:'polygon', shape:{points:pts}, style:{fill:'rgba(165,168,185,0.5)'}};
    }});
  option.series.push({type:'line', xAxisIndex:mi, yAxisIndex:mi, data:p.reg, symbol:'none', lineStyle:{color:'#1414e6', width:1.8}, silent:true});
  const rh = addGrid({left:p.rhLeft, top:p.top, width:p.rhW, height:p.h, show:true, backgroundColor:'#fff', borderWidth:0},
    {type:'value', min:0, max:32, axisLine:{show:false}, axisTick:{show:true, length:1.5, customValues:[0,10,20], lineStyle:{color:'#777', width:0.5}},
     axisLabel:Object.assign({customValues:[0,10,20]}, tickLab), splitLine:{show:true, lineStyle:{color:'#e4e4e4', width:0.5}}},
    {type:'value', min:p.ymin, max:p.ymax, show:false});
  histSeries(rh, mcm3HistStart, mcm3HistWidth, mcm3HistCounts, '#d9650b', true);
  txt(p.letter[0], p.letter[1], p.letter[2], '21px "Liberation Sans"', {textAlign:'center'});
  txt(p.tx, p.ty, p.title, 'bold 8.4px "Liberation Sans"');
  G.push({type:'text', x:p.tx+1, y:p.ty+11.5, silent:true, style:{text:p.sub, fill:'#222', font:'6.6px "Liberation Sans"', textVerticalAlign:'middle',
    rich:{i:{fontStyle:'italic', fontSize:6.6, fontFamily:LS}, s:{fontSize:4.5, fontFamily:LS, verticalAlign:'bottom', padding:[2.6,0,0,0]}}}});
  G.push({type:'text', x:p.bx, y:p.by, silent:true, style:{text:p.bot, fill:'#222', font:'4.8px "Liberation Sans"', textAlign:'right', textVerticalAlign:'middle',
    rich:{s:{fontSize:3.5, fontFamily:LS, padding:[2,0,0,0]}, u:{fontSize:3.5, fontFamily:LS, padding:[0,0,2,0]}}}});
}

function subText(t, pv, r, ci){ return '{i|t}{s|Student}(422) = '+t+', {i|p} = '+pv+', {i|r̂}{s|Pearson} = '+r+', CI{s|95%} '+ci+', {i|n}{s|pairs} = 424'; }
function botText(bf, rho, ci){ return 'log{s|e}(BF{s|01}) = '+bf+', ρ̂{u|posterior}{s|Pearson} = '+rho+', CI{u|HDI}{s|95%} '+ci+', {i|r}{u|JZS}{s|beta} = 1.41'; }

scatterPanel({left:30, w:260, top:643, h:169, htTop:620, htH:18, rhLeft:295, rhW:26,
  xmin:-0.015, xmax:3.81, ymin:1.293, ymax:3.041, xTicks:[0,1,2,3], xFmt:v=>String(v), xName:'GPC3',
  pts:gpc3Mcm3, hStart:gpc3HistStart, hWidth:gpc3HistWidth, hCounts:gpc3HistCounts, hMax:50, hTicks:[0,10,20,30,40],
  reg:gpc3RegLine, bandX:gpc3BandX, bandLo:gpc3BandLo, bandHi:gpc3BandHi,
  letter:[17,606,'E'], tx:32, ty:599, title:'Relationship between MCM3 and GPC3',
  sub:subText('10.58','2.41e-23','0.46','[0.38, 0.53]'), bx:320, by:838, bot:botText('-46.68','0.45','[0.38, 0.53]')});
scatterPanel({left:355, w:255, top:643, h:169, htTop:620, htH:18, rhLeft:612, rhW:27,
  xmin:-0.16, xmax:4.05, ymin:1.296, ymax:3.02, xTicks:[0,1,2,3,4], xFmt:v=>String(v), xName:'AFP',
  pts:afpMcm3, hStart:afpHistStart, hWidth:afpHistWidth, hCounts:afpHistCounts, hMax:35, hTicks:[0,10,20,30],
  reg:afpRegLine, bandX:afpBandX, bandLo:afpBandLo, bandHi:afpBandHi,
  letter:[322,606,'F'], tx:349, ty:599, title:'Relationship between MCM3 and AFP',
  sub:subText('8.08','6.88e-15','0.37','[0.28, 0.45]'), bx:640, by:838, bot:botText('-27.56','0.36','[0.28, 0.44]')});
scatterPanel({left:33, w:260, top:898, h:169, htTop:877, htH:17, rhLeft:296, rhW:26,
  xmin:0.224, xmax:2.588, ymin:1.31, ymax:3.02, xTicks:[0.5,1,1.5,2,2.5], xFmt:v=>Number(v).toFixed(1), xName:'CD34',
  pts:cd34Mcm3, hStart:cd34HistStart, hWidth:cd34HistWidth, hCounts:cd34HistCounts, hMax:50, hTicks:[0,10,20,30,40,50],
  reg:cd34RegLine, bandX:cd34BandX, bandLo:cd34BandLo, bandHi:cd34BandHi,
  letter:[18,860,'G'], tx:32, ty:855, title:'Relationship between MCM3 and CD34',
  sub:subText('9.63','5.51e-20','0.42','[0.34, 0.50]'), bx:320, by:1093, bot:botText('-39.07','0.42','[0.34, 0.50]')});
scatterPanel({left:355, w:257, top:898, h:169, htTop:877, htH:17, rhLeft:613, rhW:27,
  xmin:2.043, xmax:3.176, ymin:1.30, ymax:3.055, xTicks:[2.25,2.5,2.75,3.0], xFmt:v=>Number(v).toFixed(2), xName:'PCNA',
  pts:pcnaMcm3, hStart:pcnaHistStart, hWidth:pcnaHistWidth, hCounts:pcnaHistCounts, hMax:37, hTicks:[0,10,20,30],
  reg:pcnaRegLine, bandX:pcnaBandX, bandLo:pcnaBandLo, bandHi:pcnaBandHi,
  letter:[322,860,'H'], tx:349, ty:855, title:'Relationship between MCM3 and PCNA',
  sub:subText('35.12','2.61e-127','0.86','[0.84, 0.89]'), bx:640, by:1093, bot:botText('-283.85','0.86','[0.84, 0.88]')});

txt(18,16,'A','21px "Liberation Sans"',{textAlign:'center'});
txt(321,16,'B','21px "Liberation Sans"',{textAlign:'center'});
txt(18,305,'C','21px "Liberation Sans"',{textAlign:'center'});
txt(323,306,'D','21px "Liberation Sans"',{textAlign:'center'});

const chart = echarts.init(document.getElementById('c'), null, {renderer:'canvas', width:647, height:1108});
chart.setOption(option);
</script></body></html>
